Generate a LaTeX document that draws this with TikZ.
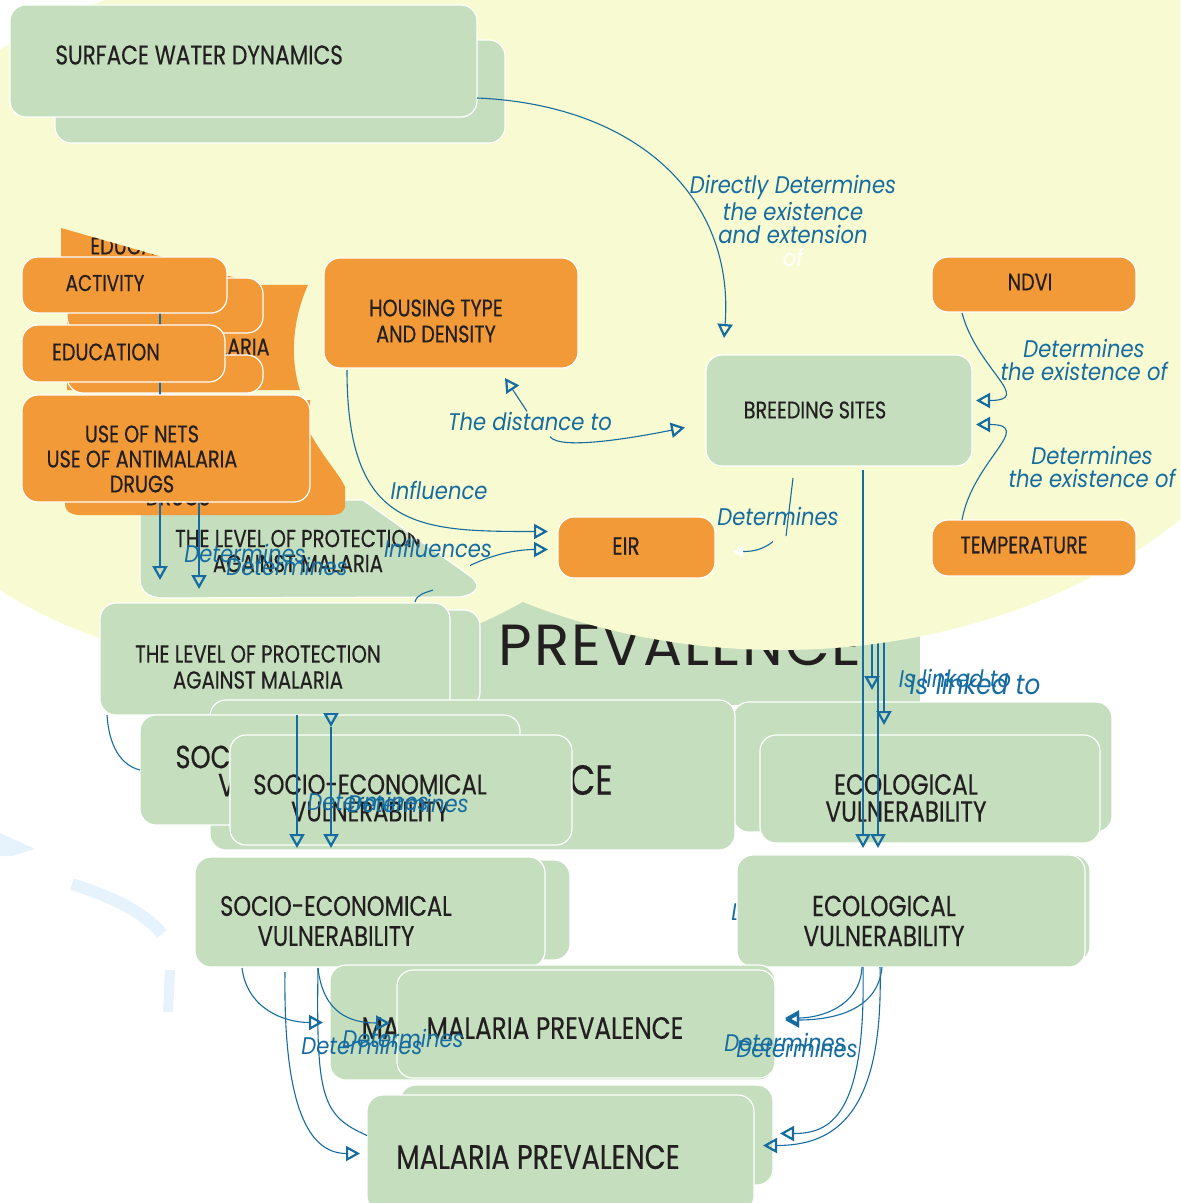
\documentclass[tikz,border=0pt]{standalone}
\usepackage{fontspec}
\setmainfont{Poppins}
\newfontfamily\boxfont[FakeStretch=0.8, FakeBold=0.4]{Poppins}
\newfontfamily\linkfont[FakeStretch=0.88]{Poppins}
\usetikzlibrary{arrows.meta,calc}

\definecolor{boxgreen}{RGB}{196,222,190}
\definecolor{boxorange}{RGB}{242,154,56}
\definecolor{bgyellow}{RGB}{248,251,209}
\definecolor{linkblue}{RGB}{22,108,160}
\definecolor{paleblue}{RGB}{230,243,253}
\definecolor{textdark}{RGB}{35,31,32}

% box given by its corners, in picture units
\newcommand{\panel}[6]{%
  \node[#2, minimum width={(#5-#3)*0.5pt}, minimum height={(#6-#4)*0.5pt}] (#1) at ({(#3+#5)/2},{(#4+#6)/2}) {};}
% box text of a given size
\newcommand{\bsize}[1]{\boxfont\fontsize{#1}{#1}\selectfont}

\tikzset{
  box/.style={rectangle, rounded corners=8pt, draw=white, line width=0.6pt, inner sep=0pt, outer sep=0pt},
  greenbox/.style={box, fill=boxgreen},
  orangebox/.style={box, fill=boxorange},
  boxtext/.style={font=\bsize{12}, text=textdark, align=center, inner sep=0pt},
  linktext/.style={font=\linkfont\itshape\fontsize{12}{11.5}\selectfont, text=linkblue, align=center, inner sep=0pt},
  link/.style={draw=linkblue, line width=0.55pt},
  linkarrow/.style={link, -{Triangle[open, length=7pt, width=7.5pt, line width=1.1pt]}},
}

\begin{document}
\begin{tikzpicture}[x=0.5pt, y=-0.5pt]
  \useasboundingbox (0,0) rectangle (1180,1203);
  \clip (0,0) rectangle (1180,1203);

  % faded circle pieces, lower left
  \fill[paleblue] (0,833) -- (35,849) -- (12,856) -- (0,856) -- cycle;
  \draw[paleblue, line width=6pt] (72,884) .. controls (115,898) and (145,913) .. (162,934);
  \draw[paleblue, line width=5pt] (170,970) -- (168,1012);

  % prevalence panel behind the field
  \fill[boxgreen] (430,560) rectangle (920,705);
  \node[font=\fontsize{29}{30}\selectfont\addfontfeature{LetterSpace=3}, text=textdark, anchor=base east, inner sep=0pt] (bigprev) at (862,665) {MALARIA PREVALENCE};

  \panel{ecoA}{greenbox}{733}{702}{1112}{832}
  \panel{ecoB}{greenbox}{760}{735}{1100}{843}
  \node[boxtext, font=\bsize{14.5}, align=center] (ecoBtxt) at (906,798) {ECOLOGICAL\\[-1pt]VULNERABILITY};

  % links coming from under the field
  \coordinate (hidB) at (872,600);
  \coordinate (hidC) at (878,600);
  \coordinate (hidD) at (884,600);
  \coordinate (tipB) at (872,690);
  \coordinate (tipC) at (878,848);
  \coordinate (tipD) at (884,725);
  \draw[linkarrow] (hidB) -- (tipB);
  \draw[linkarrow] (hidC) -- (tipC);
  \draw[linkarrow] (hidD) -- (tipD);

  % the field
  \fill[bgyellow] (271,320) ellipse [x radius=434, y radius=346];
  \fill[bgyellow] (780,240) ellipse [x radius=547, y radius=410];

  % upper boxes
  \panel{surfback}{greenbox}{55}{40}{505}{143}
  \panel{surf}{greenbox}{10}{5}{477}{117}
  \node[boxtext, font=\bsize{13.5}, anchor=west] (surftxt) at (55,55) {SURFACE WATER DYNAMICS};
  \panel{breed}{greenbox}{706}{355}{972}{466}
  \node[boxtext] (breedtxt) at (815,410) {BREEDING SITES};
  \panel{house}{orangebox}{324}{258}{578}{368}
  \node[boxtext, font=\boxfont\fontsize{12}{13}\selectfont] (housetxt) at (436,321) {HOUSING TYPE\\AND DENSITY};
  \panel{ndvi}{orangebox}{932}{257}{1136}{312}
  \node[boxtext] (ndvitxt) at (1030,282) {NDVI};
  \panel{temp}{orangebox}{932}{520}{1136}{576}
  \node[boxtext] (temptxt) at (1024,545) {TEMPERATURE};
  \panel{eir}{orangebox}{558}{517}{715}{578}
  \node[boxtext, font=\bsize{12.5}] (eirtxt) at (626,546) {EIR};

  % faded protection box
  \fill[boxgreen, draw=white, line width=0.6pt] (140,500) -- (363,500) -- (470,576) .. controls (482,585) and (478,594) .. (460,597) -- (162,598) .. controls (146,597) and (140,590) .. (140,578) -- cycle;
  \begin{scope}
    \clip (140,500) -- (363,500) -- (470,576) -- (470,598) -- (140,598) -- cycle;
    \node[boxtext, font=\boxfont\fontsize{12.3}{12.5}\selectfont] (protfaint) at (298,551) {THE LEVEL OF PROTECTION\\AGAINST MALARIA};
  \end{scope}

  % orange boxes behind
  \fill[boxorange] (61,228) -- (257,284) -- (257,300) -- (61,300) -- cycle;
  \begin{scope}
    \clip (61,228) -- (257,284) -- (257,300) -- (61,300) -- cycle;
    \node[boxtext, anchor=west] (edufaint) at (90,246) {EDUCATION};
  \end{scope}
  \fill[boxorange] (67,285) -- (308,285) .. controls (292,320) and (290,360) .. (300,390) -- (67,390) -- cycle;
  \node[boxtext, anchor=east] (drugfaint) at (270,347) {USE OF ANTIMALARIA};
  \fill[boxorange] (65,400) -- (310,400) -- (310,433) .. controls (325,460) and (340,475) .. (345,487) -- (345,505) .. controls (345,512) and (340,515) .. (330,515) -- (80,515) .. controls (70,515) and (65,510) .. (65,505) -- cycle;
  \node[boxtext] (drugfaint2) at (178,497) {DRUGS};
  \panel{actback}{orangebox}{67}{278}{263}{333}
  \panel{eduback}{orangebox}{67}{355}{263}{393}

  \draw[linkarrow] ($(actback.center)+(-5,0)$) -- ($(protfaint.center)+(-138,29)$);
  \draw[linkarrow] ($(drugfaint2.center)+(21,0)$) -- ($(protfaint.center)+(-99,38)$);
  \node[linktext] (detB) at (245,553) {Determines};
  \node[linktext] (detC) at (287,566) {Determines};
  \draw[link] ($(protfaint.center)+(117,51)$) .. controls +(2,-8) and +(-8,3) .. ($(protfaint.center)+(135,39)$);

  % orange boxes in front
  \panel{act}{orangebox}{22}{257}{227}{313}
  \node[boxtext, font=\bsize{11.5}] (acttxt) at (105,283) {ACTIVITY};
  \panel{edu}{orangebox}{22}{325}{225}{382}
  \node[boxtext] (edutxt) at (106,352) {EDUCATION};
  \panel{nets}{orangebox}{22}{395}{310}{502}
  \node[boxtext, font=\boxfont\fontsize{12}{12.5}\selectfont] (netstxt) at (142,459) {USE OF NETS\\USE OF ANTIMALARIA\\DRUGS};

  % protection and vulnerability
  \panel{protback}{greenbox}{300}{610}{480}{708}
  \panel{prot}{greenbox}{100}{603}{450}{715}
  \node[boxtext, font=\boxfont\fontsize{12.3}{13}\selectfont] (prottxt) at (258,667) {THE LEVEL OF PROTECTION\\AGAINST MALARIA};

  \panel{socbig}{greenbox}{210}{700}{735}{850}
  \node[boxtext, font=\bsize{21}, anchor=east] (socbigtxt) at (613,780) {MALARIA PREVALENCE};
  \panel{socA}{greenbox}{140}{715}{520}{825}
  \node[boxtext, font=\boxfont\fontsize{16}{14}\selectfont] (socAtxt) at (307,771) {SOCIO-ECONOMICAL\\VULNERABILITY};
  \draw[link] ($(prot.south west)+(7,0)$) .. controls +(2,30) and +(-20,-5) .. (socA.west);
  \panel{socB}{greenbox}{230}{735}{572}{845}
  \node[boxtext, font=\boxfont\fontsize{14.2}{13.5}\selectfont] (socBtxt) at (370,798) {SOCIO-ECONOMICAL\\VULNERABILITY};

  \panel{socshadow}{greenbox}{250}{860}{570}{960}
  \panel{soc}{greenbox}{195}{857}{545}{967}
  \node[boxtext, font=\boxfont\fontsize{14.1}{15}\selectfont] (soctxt) at (336,921) {SOCIO-ECONOMICAL\\VULNERABILITY};

  \node[linktext] (ecoL) at (736,912) {L};
  \panel{ecoshadow}{greenbox}{745}{855}{1090}{962}
  \panel{eco}{greenbox}{737}{855}{1085}{967}
  \node[boxtext, font=\boxfont\fontsize{14.5}{15}\selectfont] (ecotxt) at (884,921) {ECOLOGICAL\\VULNERABILITY};

  % malaria prevalence
  \panel{malAback}{greenbox}{330}{965}{775}{1080}
  \node[boxtext, font=\bsize{15.4}] (malAbacktxt) at (490,1028) {MALARIA PREVALENCE};
  \panel{malA}{greenbox}{397}{970}{775}{1078}
  \node[boxtext, font=\bsize{15.4}] (malAtxt) at (555,1028) {MALARIA PREVALENCE};
  \panel{malshadow}{greenbox}{400}{1085}{773}{1185}
  \panel{mal}{greenbox}{367}{1095}{754}{1212}
  \node[boxtext, font=\bsize{17}] (maltxt) at (538,1157) {MALARIA PREVALENCE};

  % links
  \draw[linkarrow] ($(surf.east)+(0,37)$) .. controls (640,105) and (735,200) .. ($(breed.north west)+(18,-17)$);
  \node[linktext] (direct) at (793,221) {Directly Determines\\the existence\\and extension\\\textcolor{white}{of}};

  \draw[linkarrow] ($(ndvi.south west)+(30,1)$) to[out=-75, in=0, looseness=1.7] ($(breed.east)+(4,-10)$);
  \node[linktext] (detndvi) at (1084,360) {Determines\\the existence of};
  \draw[linkarrow] ($(temp.north west)+(30,0)$) to[out=80, in=0, looseness=1.6] ($(breed.east)+(4,14)$);
  \node[linktext] (dettemp) at (1092,467) {Determines\\the existence of};

  \node[linktext] (dist) at (530,421) {The distance to};
  \draw[linkarrow] ($(dist.north)+(-3,0)$) -- ($(house.south)+(54,10)$);
  \draw[linkarrow] ($(dist.south)+(20,6)$) .. controls +(10,14) and +(-50,10) .. ($(breed.west)+(-21,17)$);

  \node[linktext] (infl) at (439,490) {Influence};
  \draw[linkarrow] ($(house.south west)+(23,2)$) .. controls +(0,160) and +(-130,0) .. ($(eir.west)+(-10,-16)$);
  \node[linktext] (infls) at (438,548) {Influences};
  \draw[linkarrow] ($(eir.west)+(-88,18)$) .. controls +(25,-12) and +(-30,0) .. ($(eir.west)+(-10,2)$);

  \node[linktext] (detA) at (778,516) {Determines};
  \draw[link] ($(breed.south)+(-46,12)$) .. controls +(-3,25) .. ($(breed.south)+(-53,70)$);
  \draw[link, -{Triangle[white, length=5pt, width=6pt]}] ($(eir.east)+(58,-6)$) .. controls +(-12,10) and +(15,0) .. ($(eir.east)+(18,4)$);

  \draw[linkarrow] ($(breed.south)+(24,4)$) -- ($(eco.north)+(-48,-7)$);
  \node[linktext] (linkA) at (955,678) {Is linked to};
  \node[linktext, font=\linkfont\itshape\fontsize{14}{14}\selectfont] (linkB) at (975,684) {Is linked to};

  \draw[linkarrow] ($(prot.south)+(22,0)$) -- ($(soc.north)+(-73,-9)$);
  \draw[linkarrow] ($(prot.south)+(56,0)$) -- ($(prot.south)+(56,12)$);
  \draw[linkarrow] ($(prot.south)+(56,12)$) -- ($(soc.north)+(-39,-9)$);
  \node[linktext] (detD) at (368,801) {Determines};
  \node[linktext] (detE) at (408,803) {Determines};

  \draw[linkarrow] ($(soc.south west)+(47,1)$) .. controls +(5,40) and +(-40,0) .. ($(malAback.west)+(-7,0)$);
  \draw[linkarrow] ($(soc.south west)+(123,1)$) .. controls +(5,45) and +(-40,0) .. ($(malA.west)+(-7,-1)$);
  \draw[linkarrow] ($(soc.south west)+(90,5)$) .. controls +(-2,150) and +(-45,0) .. ($(mal.west)+(-7,0)$);
  \draw[link] ($(soc.south west)+(123,1)$) .. controls +(-2,130) and +(-45,-20) .. ($(mal.west)+(0,-18)$);
  \node[linktext] (detF) at (362,1045) {Determines};
  \node[linktext] (detG) at (403,1038) {Determines};

  \draw[linkarrow] ($(eco.south)+(-49,0)$) .. controls +(-2,40) and +(35,0) .. ($(malA.east)+(10,-6)$);
  \draw[linkarrow] ($(eco.south)+(-29,0)$) .. controls +(-4,45) and +(45,0) .. ($(malA.east)+(10,-4)$);
  \draw[linkarrow] ($(eco.south)+(-48,0)$) .. controls +(3,150) and +(50,0) .. ($(mal.east)+(26,-20)$);
  \draw[linkarrow] ($(eco.south)+(-31,0)$) .. controls +(4,150) and +(70,0) .. ($(mal.east)+(9,-8)$);
  \node[linktext] (detH) at (785,1042) {Determines};
  \node[linktext] (detI) at (797,1048) {Determines};
\end{tikzpicture}
\end{document}
